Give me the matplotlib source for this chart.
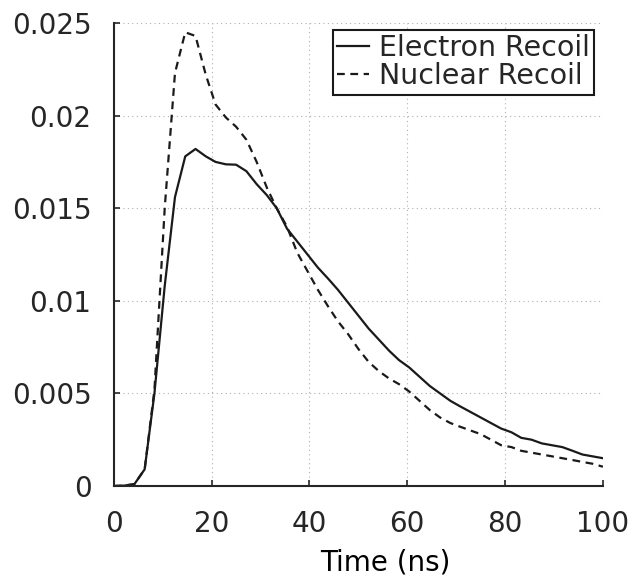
import matplotlib
matplotlib.use("Agg")
import matplotlib.pyplot as plt

plt.rcParams.update({
    "font.family": "DejaVu Sans",
    "text.color": "#262626",
    "axes.edgecolor": "#262626",
    "xtick.color": "#262626",
    "ytick.color": "#262626",
})

# time axis (ns)
time_ns = [0, 2.1, 4.2, 6.3, 8.3, 10.4, 12.5, 14.6, 16.7, 18.8, 20.8, 22.9,
           25, 27.1, 29.2, 31.3, 33.3, 35.4, 37.5, 39.6, 41.7, 43.8, 45.8,
           47.9, 50, 52.1, 54.2, 56.3, 58.3, 60.4, 62.5, 64.6, 66.7, 68.8,
           70.8, 72.9, 75, 77.1, 79.2, 81.3, 83.3, 85.4, 87.5, 89.6, 91.7,
           93.8, 95.8, 97.9, 100]

electron = [0, 0.00002, 0.0001, 0.0009, 0.0050, 0.0108, 0.0156, 0.0178,
            0.0182, 0.0178, 0.0175, 0.01737, 0.01735, 0.0170, 0.0163, 0.0157,
            0.0150, 0.0139, 0.0132, 0.0125, 0.0118, 0.0112, 0.0106, 0.0099,
            0.0092, 0.0085, 0.0079, 0.0073, 0.0068, 0.0064, 0.0059, 0.0054,
            0.0050, 0.0046, 0.0043, 0.0040, 0.0037, 0.0034, 0.0031, 0.0029,
            0.0026, 0.0025, 0.0023, 0.0022, 0.0021, 0.0019, 0.0017, 0.0016,
            0.0015]

nuclear = [0, 0.00002, 0.0001, 0.0009, 0.0052, 0.0150, 0.0223, 0.0245,
           0.0243, 0.0222, 0.0206, 0.0199, 0.0194, 0.0187, 0.0175, 0.0161,
           0.0150, 0.0140, 0.0126, 0.0116, 0.0106, 0.0097, 0.0089, 0.0082,
           0.0074, 0.0067, 0.0062, 0.0058, 0.0055, 0.0051, 0.0046, 0.0041,
           0.0037, 0.0034, 0.0032, 0.0030, 0.0028, 0.0025, 0.0022, 0.0021,
           0.0019, 0.0018, 0.0017, 0.0016, 0.0015, 0.0014, 0.0013, 0.0012,
           0.00104]

x_ticks = [0, 20, 40, 60, 80, 100]
y_ticks = [0, 0.005, 0.01, 0.015, 0.02, 0.025]
y_labels = ["0", "0.005", "0.01", "0.015", "0.02", "0.025"]

fig = plt.figure(figsize=(6.36, 5.83), dpi=100)
ax = fig.add_axes([0.179, 0.1664, 0.769, 0.7941])

ax.plot(time_ns, electron, color="#1a1a1a", linewidth=1.6,
        linestyle="-", label="Electron Recoil")
ax.plot(time_ns, nuclear, color="#1a1a1a", linewidth=1.6,
        linestyle=(0, (3.5, 2.5)), label="Nuclear Recoil")

ax.set_xlim(0, 100)
ax.set_ylim(0, 0.025)
ax.set_xticks(x_ticks)
ax.set_xticklabels([str(v) for v in x_ticks])
ax.set_yticks(y_ticks)
ax.set_yticklabels(y_labels)

ax.tick_params(axis="both", direction="in", length=4, width=1.2,
               labelsize=20)
ax.tick_params(axis="y", pad=16)
ax.tick_params(axis="x", pad=17)
ax.spines["top"].set_visible(False)
ax.spines["right"].set_visible(False)
ax.spines["left"].set_linewidth(1.5)
ax.spines["bottom"].set_linewidth(1.5)

ax.grid(True, linestyle=(0, (1, 3)), color="#b0b0b0", linewidth=0.8)
ax.set_axisbelow(True)

ax.set_xlabel("Time (ns)", fontsize=20)
ax.xaxis.set_label_coords(0.556, -0.135, transform=ax.transAxes)

leg = ax.legend(loc="upper right", bbox_to_anchor=(0.9816, 0.985),
                borderaxespad=0, fontsize=20.5, frameon=True, fancybox=False,
                framealpha=1, edgecolor="#1a1a1a", labelspacing=0.0,
                handlelength=1.1, handletextpad=0.35, borderpad=0.15)
leg.get_frame().set_linewidth(1.5)

fig.savefig("out.png", dpi=100)
